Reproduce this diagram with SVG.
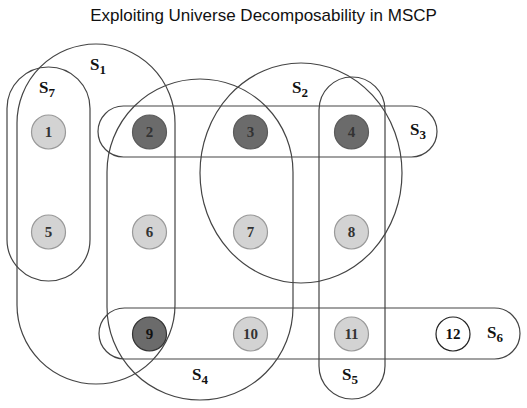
<svg xmlns="http://www.w3.org/2000/svg" width="527" height="408" viewBox="0 0 527 408">
<style>
.set{fill:none;stroke:#444;stroke-width:1.2}
.lt{fill:#d3d3d3;stroke:#999;stroke-width:1.2}
.dk{fill:#6b6b6b;stroke:#5a5a5a;stroke-width:1.2}
.wh{fill:#fff;stroke:#222;stroke-width:1.2}
.nt{font-family:"Liberation Serif",serif;font-weight:bold;font-size:15px;fill:#333;text-anchor:middle}
.nt2{font-family:"Liberation Serif",serif;font-weight:bold;font-size:15px;fill:#111;text-anchor:middle}
.sl{font-family:"Liberation Serif",serif;font-weight:bold;font-size:17px;fill:#111}
.sub{font-size:13px}
.title{font-family:"Liberation Sans",Arial,sans-serif;font-size:17px;fill:#111;text-anchor:middle}
</style>
<rect width="527" height="408" fill="#fff"/>
<text class="title" x="263.5" y="21">Exploiting Universe Decomposability in MSCP</text>
<g id="sets">
<g id="S1"><rect class="set" x="17" y="44" width="158" height="340" rx="79" ry="79"/><text class="sl" x="90" y="70">S<tspan class="sub" dy="4">1</tspan></text></g>
<g id="S7"><rect class="set" x="7" y="67" width="83" height="214" rx="41.5" ry="41.5"/><text class="sl" x="39" y="93">S<tspan class="sub" dy="4">7</tspan></text></g>
<g id="S3"><rect class="set" x="98" y="106" width="339" height="51" rx="25.5" ry="25.5"/><text class="sl" x="410" y="135">S<tspan class="sub" dy="4">3</tspan></text></g>
<g id="S4"><rect class="set" x="107" y="79" width="186" height="321" rx="93" ry="93"/><text class="sl" x="192" y="380">S<tspan class="sub" dy="4">4</tspan></text></g>
<g id="S2"><ellipse class="set" cx="301" cy="173" rx="101" ry="110"/><text class="sl" x="292" y="93">S<tspan class="sub" dy="4">2</tspan></text></g>
<g id="S5"><rect class="set" x="319" y="77" width="66" height="322" rx="33" ry="33"/><text class="sl" x="342" y="380">S<tspan class="sub" dy="4">5</tspan></text></g>
<g id="S6"><rect class="set" x="99" y="308" width="421" height="51" rx="25.5" ry="25.5"/><text class="sl" x="487" y="338">S<tspan class="sub" dy="4">6</tspan></text></g>
</g>
<g id="n1"><circle class="lt" cx="48.5" cy="132" r="17"/><text class="nt" x="48.5" y="137">1</text></g>
<g id="n2"><circle class="dk" cx="149.5" cy="132" r="17"/><text class="nt" x="149.5" y="137">2</text></g>
<g id="n3"><circle class="dk" cx="250.5" cy="132" r="17"/><text class="nt" x="250.5" y="137">3</text></g>
<g id="n4"><circle class="dk" cx="351.5" cy="132" r="17"/><text class="nt" x="351.5" y="137">4</text></g>
<g id="n5"><circle class="lt" cx="48.5" cy="232" r="17"/><text class="nt" x="48.5" y="237">5</text></g>
<g id="n6"><circle class="lt" cx="149.5" cy="232" r="17"/><text class="nt" x="149.5" y="237">6</text></g>
<g id="n7"><circle class="lt" cx="250.5" cy="232" r="17"/><text class="nt" x="250.5" y="237">7</text></g>
<g id="n8"><circle class="lt" cx="351.5" cy="232" r="17"/><text class="nt" x="351.5" y="237">8</text></g>
<g id="n9"><circle class="dk" cx="149.5" cy="334" r="17" style="stroke:#333"/><text class="nt2" x="149.5" y="339">9</text></g>
<g id="n10"><circle class="lt" cx="250.5" cy="334" r="17"/><text class="nt" x="250.5" y="339">10</text></g>
<g id="n11"><circle class="lt" cx="351.5" cy="334" r="17"/><text class="nt" x="351.5" y="339">11</text></g>
<g id="n12"><circle class="wh" cx="453" cy="334" r="17"/><text class="nt2" x="453" y="339">12</text></g>
</svg>
